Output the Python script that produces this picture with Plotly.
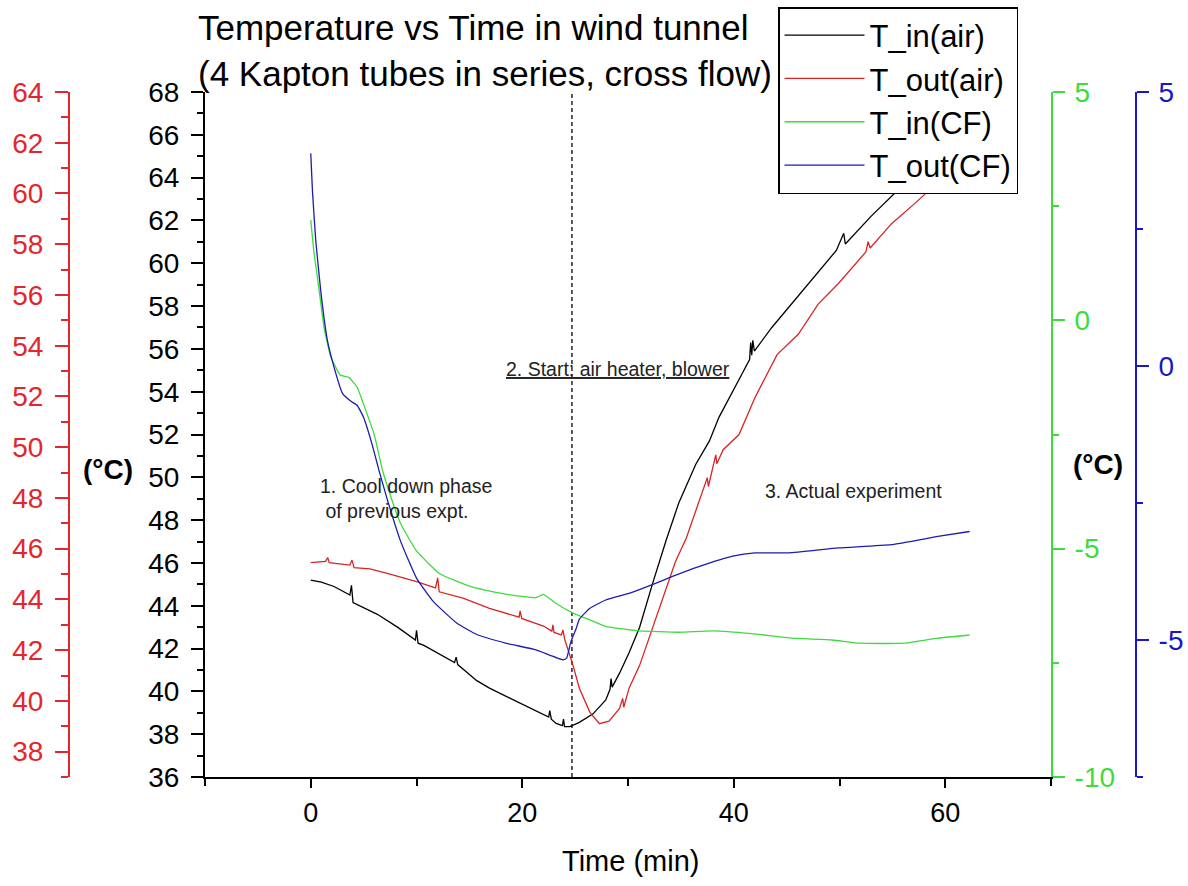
import plotly.graph_objects as go

# ---------------- data ----------------
TITLE = "Temperature vs Time in wind tunnel<br>(4 Kapton tubes in series, cross flow)"
series_names = ["T_in(air)", "T_out(air)", "T_in(CF)", "T_out(CF)"]

# air inlet temperature (left inner axis, deg C)
t_in_air_time = [0, 1.0, 2.2, 3.7, 3.85, 4.0, 6.3, 8.2, 9.9, 10.0, 10.15, 10.7, 13.6, 13.75,
                 13.9, 15.7, 16.9, 20.1, 22.5, 22.6, 22.75, 23.2, 23.8, 23.9, 24.0, 24.5, 25.4,
                 26.7, 27.9, 28.3, 28.4, 28.5, 29.2, 30.1, 31.1, 32.3, 33.6, 34.8, 36.4, 37.7,
                 38.6, 40.8, 41.5, 41.6, 41.7, 41.8, 41.95, 43.6, 46.8, 49.7, 50.4, 50.55, 53.0,
                 55.9, 59.0, 62.5]
t_in_air_temp = [45.2, 45.1, 44.9, 44.5, 44.95, 44.15, 43.6, 43.0, 42.4, 42.85, 42.25, 42.15,
                 41.35, 41.6, 41.25, 40.5, 40.15, 39.4, 38.8, 39.1, 38.7, 38.5, 38.4, 38.7, 38.35,
                 38.35, 38.55, 38.95, 39.6, 40.1, 40.6, 40.2, 40.85, 41.8, 43.0, 45.0, 47.05, 48.8,
                 50.6, 51.7, 52.8, 54.85, 55.5, 56.3, 55.7, 56.4, 55.9, 57.0, 58.9, 60.6, 61.4,
                 60.9, 62.2, 63.6, 65.0, 66.5]

# air outlet temperature (left outer axis, deg C)
t_out_air_time = [0, 1.4, 1.6, 1.75, 3.7, 3.9, 4.1, 5.6, 7.5, 10.0, 11.8, 12.0, 12.15, 12.6,
                  14.4, 16.9, 19.7, 19.8, 19.95, 22.0, 22.8, 22.9, 23.0, 23.7, 23.85, 24.0, 24.2,
                  24.8, 25.4, 26.4, 27.3, 28.2, 29.2, 29.5, 29.6, 30.1, 31.1, 32.3, 33.6, 34.5,
                  35.5, 36.1, 37.0, 37.5, 37.6, 38.0, 38.3, 38.4, 39.0, 40.5, 42.0, 44.1, 46.1,
                  48.0, 49.9, 52.5, 52.7, 52.9, 54.9, 57.1, 58.8, 62.5]
t_out_air_temp = [45.45, 45.5, 45.65, 45.45, 45.35, 45.55, 45.25, 45.2, 45.0, 44.7, 44.45, 44.85,
                  44.3, 44.25, 44.05, 43.65, 43.3, 43.55, 43.25, 42.95, 42.75, 43.0, 42.7, 42.6,
                  42.8, 42.45, 42.2, 41.4, 40.5, 39.55, 39.1, 39.2, 39.7, 40.1, 39.75, 40.5, 41.4,
                  42.85, 44.45, 45.5, 46.4, 47.1, 48.15, 48.8, 48.45, 49.2, 49.7, 49.35, 49.9,
                  50.5, 51.95, 53.65, 54.45, 55.65, 56.45, 57.7, 58.1, 57.85, 58.8, 59.6, 60.25,
                  61.6]

# coolant inlet temperature (right inner axis, deg C)
t_in_cf_time = [0, 0.3, 0.8, 1.25, 1.9, 2.8, 3.6, 4.4, 5.0, 6.0, 6.75, 7.2, 8.5, 10.0, 12.2,
                15.4, 18.5, 21.3, 22.0, 23.2, 24.8, 26.4, 27.9, 31.1, 34.8, 38.0, 41.7, 45.5,
                49.3, 51.8, 56.2, 59.3, 62.3]
t_in_cf_temp = [2.2, 1.5, 0.65, -0.15, -0.8, -1.2, -1.25, -1.47, -1.84, -2.5, -3.25, -3.6,
                -4.45, -5.05, -5.55, -5.85, -6.0, -6.07, -6.0, -6.2, -6.41, -6.56, -6.7, -6.8,
                -6.83, -6.8, -6.86, -6.96, -7.0, -7.07, -7.07, -6.96, -6.89]

# coolant outlet temperature (right outer axis, deg C)
t_out_cf_time = [0, 0.16, 0.47, 0.94, 1.57, 2.2, 3.0, 3.77, 4.4, 5.0, 5.8, 6.43, 7.2, 8.5,
                 10.0, 11.6, 13.8, 15.7, 18.5, 21.3, 23.85, 24.2, 24.6, 25.1, 25.4, 26.4, 27.9,
                 30.1, 32.3, 34.2, 36.7, 39.9, 42.0, 45.2, 49.9, 54.9, 59.3, 62.3]
t_out_cf_temp = [3.88, 3.2, 2.3, 1.38, 0.47, -0.02, -0.5, -0.64, -0.72, -0.94, -1.43, -1.89,
                 -2.41, -3.2, -3.87, -4.3, -4.69, -4.9, -5.06, -5.18, -5.36, -5.33, -5.03,
                 -4.79, -4.62, -4.42, -4.27, -4.15, -3.99, -3.84, -3.66, -3.47, -3.41, -3.41,
                 -3.32, -3.26, -3.11, -3.02]

heater_start_min = 24.7

# tick values of the two coolant axes
cf_in_ticks = [-10, -5, 0, 5]
cf_out_ticks = [-5, 0, 5]

phase_notes = [
    "1. Cool down phase<br> of previous expt.",
    "<u>2. Start: air heater, blower</u>",
    "3. Actual experiment",
]
note_time = [0.7, 18.3, 42.8]
note_temp = [49.0, 55.05, 49.35]

# ---------------- styling ----------------
W, H = 1188, 886
FONT = "Liberation Sans, Arial, sans-serif"
RED = "#e3262d"
GREEN = "#3ddc3d"
BLUE = "#1818c4"


def px(x):
    return x / W


def py(y):
    return 1 - y / H


x_dom = [px(205), px(1051)]
y_dom = [py(777), py(92)]

fig = go.Figure()
fig.add_trace(go.Scatter(x=t_in_air_time, y=t_in_air_temp, name=series_names[0], mode="lines",
                         line=dict(color="black", width=1.3), yaxis="y"))
fig.add_trace(go.Scatter(x=t_out_air_time, y=t_out_air_temp, name=series_names[1], mode="lines",
                         line=dict(color="#d92424", width=1.3), yaxis="y2"))
fig.add_trace(go.Scatter(x=t_in_cf_time, y=t_in_cf_temp, name=series_names[2], mode="lines",
                         line=dict(color=GREEN, width=1.3, shape="spline", smoothing=0.4),
                         yaxis="y3"))
fig.add_trace(go.Scatter(x=t_out_cf_time, y=t_out_cf_temp, name=series_names[3], mode="lines",
                         line=dict(color="#1c1cae", width=1.3, shape="spline", smoothing=0.4),
                         yaxis="y4"))


def axis_style(color, dtick, minor_dtick, tl=12, ml=6, size=28, standoff=4):
    return dict(
        color=color, linecolor=color, tickcolor=color, showline=True, linewidth=2,
        ticks="outside", ticklen=tl, tickwidth=2, dtick=dtick, tick0=0,
        minor=dict(ticks="outside", ticklen=ml, tickwidth=2, dtick=minor_dtick, tickcolor=color),
        showgrid=False, zeroline=False, ticklabelstandoff=standoff,
        tickfont=dict(size=size, color=color, family=FONT),
    )


fig.update_layout(
    width=W, height=H,
    margin=dict(l=0, r=0, t=0, b=0, autoexpand=False),
    paper_bgcolor="white", plot_bgcolor="white",
    font=dict(family=FONT, color="black"),
    xaxis=dict(domain=x_dom, range=[-10, 70], anchor="y",
               **axis_style("black", 20, 10, tl=9, ml=7, size=27, standoff=2)),
    yaxis=dict(domain=y_dom, range=[36, 68], anchor="x", **axis_style("black", 2, 1, standoff=6)),
    yaxis2=dict(overlaying="y", anchor="free", position=px(69), side="left", range=[37, 64],
                **axis_style(RED, 2, 1, tl=13, ml=7, standoff=6)),
    yaxis3=dict(overlaying="y", anchor="x", side="right", range=[-10, 5],
                **axis_style(GREEN, 5, 2.5, standoff=4)),
    yaxis4=dict(overlaying="y", anchor="free", position=px(1136), side="right", range=[-7.5, 5],
                **axis_style(BLUE, 5, 2.5, standoff=4)),
    legend=dict(x=px(778), y=py(7), xanchor="left", yanchor="top", bgcolor="white",
                bordercolor="black", borderwidth=1.5, itemwidth=80,
                font=dict(size=31, color="black", family=FONT)),
    showlegend=True,
)
# plain hyphen minus signs on the coolant axes
fig.update_layout(
    yaxis3=dict(tickmode="array", tickvals=cf_in_ticks, ticktext=[str(v) for v in cf_in_ticks]),
    yaxis4=dict(tickmode="array", tickvals=cf_out_ticks, ticktext=[str(v) for v in cf_out_ticks]),
)

# chart title (two lines, left aligned above the plot)
fig.add_annotation(text=TITLE, x=px(196), y=py(6), xref="paper", yref="paper",
                   xanchor="left", yanchor="top", align="left", showarrow=False,
                   font=dict(size=35, color="black", family=FONT))

# start of heating marker
fig.add_shape(type="line", xref="x", yref="y domain", x0=heater_start_min, x1=heater_start_min,
              y0=0, y1=1, line=dict(color="black", width=1.3, dash="4px,3px"), layer="below")

# phase notes
for txt, tx, ty in zip(phase_notes, note_time, note_temp):
    fig.add_annotation(text=txt, x=tx, y=ty, xref="x", yref="y", xanchor="left",
                       yanchor="middle", align="left", showarrow=False,
                       font=dict(size=19.5, color="#222", family=FONT))

# axis titles
fig.add_annotation(text="<b>(°C)</b>", x=px(108), y=py(469), xref="paper", yref="paper",
                   xanchor="center", yanchor="middle", showarrow=False,
                   font=dict(size=28, color="black", family=FONT))
fig.add_annotation(text="<b>(°C)</b>", x=px(1098), y=py(465), xref="paper", yref="paper",
                   xanchor="center", yanchor="middle", showarrow=False,
                   font=dict(size=28, color="black", family=FONT))
fig.add_annotation(text="Time (min)", x=px(630), y=py(861), xref="paper", yref="paper",
                   xanchor="center", yanchor="middle", showarrow=False,
                   font=dict(size=29, color="black", family=FONT))

fig.write_html("out.html")
